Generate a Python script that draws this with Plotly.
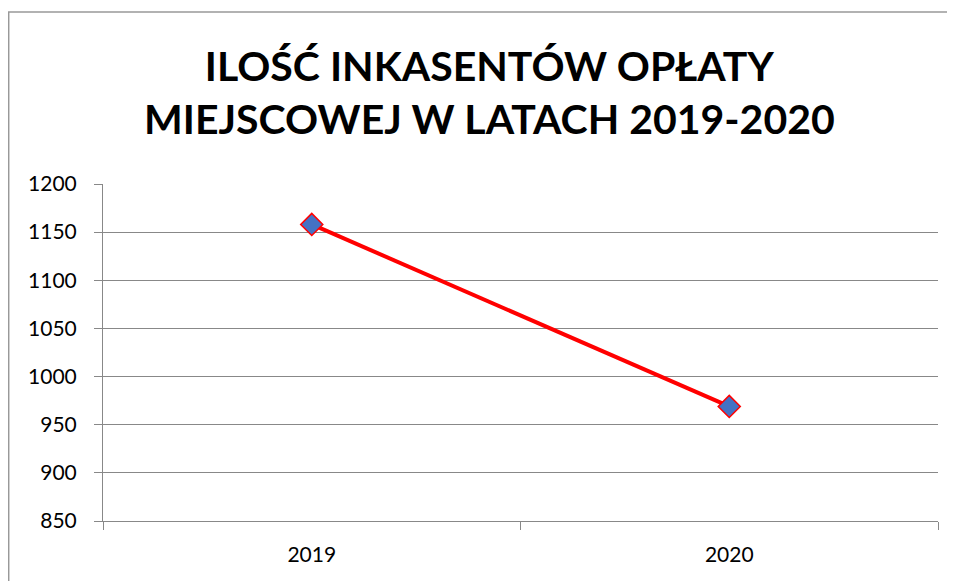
import plotly.graph_objects as go

years = ["2019", "2020"]
counts = [1158, 969]
title_lines = ["ILOŚĆ INKASENTÓW OPŁATY", "MIEJSCOWEJ W LATACH 2019-2020"]

# page has an 8px body margin, so the figure is drawn from (8, 8)
OFF = 8
W, H = 955 - OFF, 581 - OFF
L, R, T, B = 103 - OFF, 955 - 938, 184 - OFF, 581 - 521
pw, ph = W - L - R, H - T - B

def px_x(x):
    return (x - OFF - L) / pw

def px_y(y):
    return (H - B - (y - OFF)) / ph

fig = go.Figure()
fig.add_trace(go.Scatter(
    x=years, y=counts, mode="lines+markers",
    line=dict(color="#FF0000", width=4),
    marker=dict(symbol="diamond", size=17, color="#4472C4",
                line=dict(color="#FF0000", width=1.5)),
    showlegend=False,
))

fig.update_layout(
    width=W, height=H,
    margin=dict(l=L, r=R, t=T, b=B),
    paper_bgcolor="white", plot_bgcolor="white",
    font=dict(family="Lato, 'Open Sans', sans-serif", color="black"),
    xaxis=dict(
        type="category", tickson="boundaries", ticks="outside", ticklen=8,
        tickcolor="#888888", showgrid=False, showline=True, linecolor="#888888",
        linewidth=1, tickfont=dict(size=21), range=[-0.5, 1.5],
        ticklabelstandoff=15,
    ),
    yaxis=dict(
        range=[850, 1200], dtick=50, ticks="outside", ticklen=8,
        tickcolor="#888888", showgrid=True, gridcolor="#888888", gridwidth=1,
        showline=True, linecolor="#888888", linewidth=1,
        tickfont=dict(size=21), ticklabelstandoff=13, zeroline=False,
    ),
    shapes=[dict(type="rect", xref="paper", yref="paper",
                 x0=px_x(8.7), x1=px_x(990), y0=px_y(620), y1=px_y(12),
                 line=dict(color="#999999", width=1.5), fillcolor="rgba(0,0,0,0)",
                 layer="below")],
    annotations=[dict(
        text="<b>" + title_lines[0] + "<br>" + title_lines[1] + "</b>",
        xref="paper", yref="paper", x=px_x(489), y=px_y(92),
        xanchor="center", yanchor="middle", showarrow=False,
        font=dict(size=41, family="Lato, sans-serif", color="black"),
        align="center",
    )],
)

fig.write_html("out.html")
